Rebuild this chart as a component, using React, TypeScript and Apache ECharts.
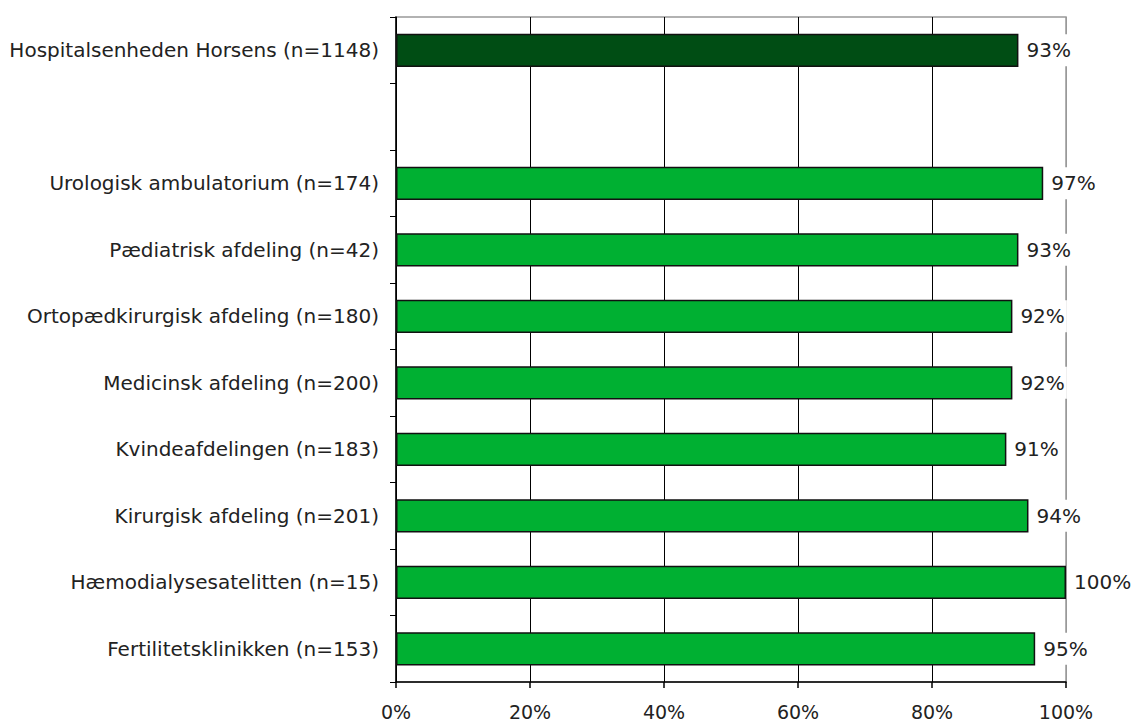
import React, { useEffect, useRef } from "react";
import * as echarts from "echarts";

const categories = [
  "Hospitalsenheden Horsens (n=1148)",
  "",
  "Urologisk ambulatorium (n=174)",
  "Pædiatrisk afdeling (n=42)",
  "Ortopædkirurgisk afdeling (n=180)",
  "Medicinsk afdeling (n=200)",
  "Kvindeafdelingen (n=183)",
  "Kirurgisk afdeling (n=201)",
  "Hæmodialysesatelitten (n=15)",
  "Fertilitetsklinikken (n=153)",
];

const values: (number | null)[] = [92.9, null, 96.6, 92.9, 92.0, 92.0, 91.1, 94.4, 100, 95.4];

const xTicks = [0, 20, 40, 60, 80, 100];

const highlightIndex = 0;
const FONT = "DejaVu Sans";

export default function App() {
  const ref = useRef<HTMLDivElement>(null);

  useEffect(() => {
    document.body.style.margin = "0";
    const chart = echarts.init(ref.current!, null, { renderer: "svg" });
    chart.setOption({
      animation: false,
      backgroundColor: "#ffffff",
      grid: {
        left: 396,
        right: 65,
        top: 17,
        bottom: 43,
        show: true,
        borderColor: "#999999",
        borderWidth: 1.5,
        backgroundColor: "transparent",
      },
      xAxis: {
        type: "value",
        min: xTicks[0],
        max: xTicks[xTicks.length - 1],
        interval: 20,
        axisLine: { show: true, lineStyle: { color: "#000", width: 1.5 } },
        axisTick: { show: true, length: 6, lineStyle: { color: "#000", width: 1.5 } },
        axisLabel: {
          formatter: "{value}%",
          fontFamily: FONT,
          fontSize: 19,
          color: "#222",
          margin: 20,
        },
        splitLine: {
          show: true,
          lineStyle: { color: ["#000", "#000", "#000", "#000", "#000", "#999"], width: 1 },
        },
      },
      yAxis: {
        type: "category",
        data: categories,
        inverse: true,
        axisLine: { show: true, lineStyle: { color: "#000", width: 1.5 } },
        axisTick: { show: true, length: 6, lineStyle: { color: "#000", width: 1 } },
        axisLabel: {
          fontFamily: FONT,
          fontSize: 20,
          color: "#222",
          margin: 17,
        },
        splitLine: { show: false },
      },
      series: [
        {
          type: "bar",
          data: values,
          barWidth: "50%",
          itemStyle: {
            color: (p: any) => (p.dataIndex === highlightIndex ? "#004d14" : "#00b032"),
            borderColor: "#111",
            borderWidth: 1.5,
          },
          label: {
            show: true,
            position: "right",
            distance: 6,
            formatter: (p: any) => Math.round(p.value) + "%",
            fontFamily: FONT,
            fontSize: 20,
            color: "#222",
            backgroundColor: "#ffffff",
            padding: [6, 2],
          },
        },
      ],
    });
    return () => chart.dispose();
  }, []);

  return <div ref={ref} style={{ width: 1131, height: 725 }} />;
}
